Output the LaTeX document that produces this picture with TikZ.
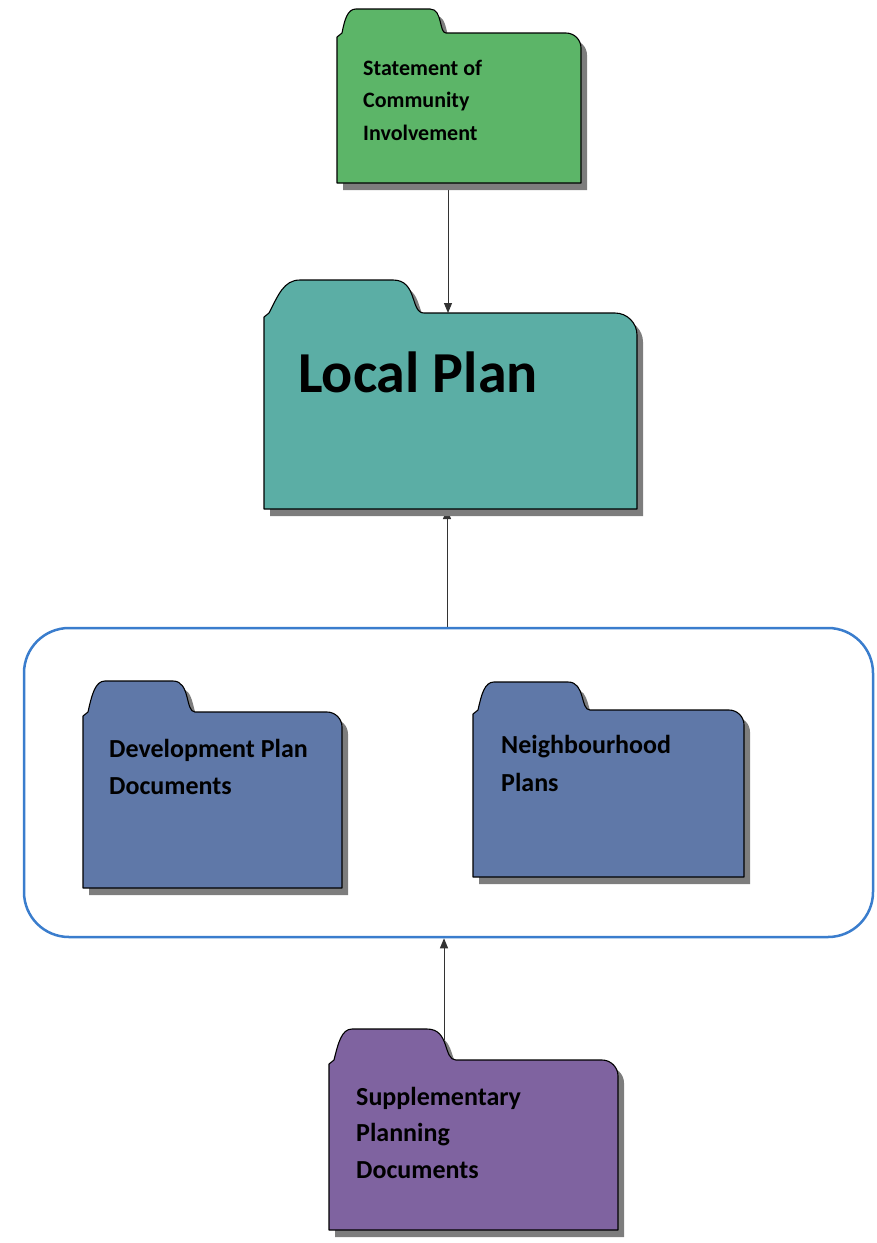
\documentclass[tikz,border=0pt]{standalone}
\usepackage{fontspec}
\setmainfont{Carlito}
\usetikzlibrary{arrows.meta}
\pgfdeclarelayer{bg}
\pgfsetlayers{bg,main}
\definecolor{cgreen}{RGB}{92,181,104}
\definecolor{cteal}{RGB}{91,174,165}
\definecolor{cblue}{RGB}{95,120,168}
\definecolor{cpurple}{RGB}{127,99,160}
\definecolor{cframe}{RGB}{58,125,205}
\definecolor{cshadow}{RGB}{125,125,125}
% folder outline: L, TabTop, BodyTop, R, B, tabflat start, tabflat end, tab end, corner radius
\def\fshape(#1,#2,#3,#4,#5,#6,#7,#8,#9){({#1},{#5}) -- ({#1},{#3+4}) -- ({#1+5},{#3}) .. controls ({#1+0.4*(#6-#1)},{#3-0.55*(#3-#2)}) and ({#1+0.55*(#6-#1)},{#2}) .. ({#6},{#2}) -- ({#7},{#2}) .. controls ({#7+0.8*(#8-#7)},{#2}) and ({#7+0.55*(#8-#7)},{#3}) .. ({#8},{#3}) -- ({#4-#9},{#3}) .. controls ({#4-0.45*#9},{#3}) and ({#4},{#3+0.45*#9}) .. ({#4},{#3+#9}) -- ({#4},{#5}) -- cycle}
\newcommand\drawfolder[2]{%
  \fill[cshadow,shift={(6,7)}] \fshape(#2);
  \filldraw[fill=#1,folderline] \fshape(#2);}
\tikzset{
  folderline/.style={draw=black,line width=1.1pt,line join=round},
  fbody/.style={inner sep=0pt,outer sep=0pt,anchor=north west},
  lbl/.style={anchor=base west,align=left,inner sep=0pt,text=black},
  arr/.style={draw=black!80,line width=1pt,-{Triangle[length=10pt,width=8pt]}},
  frame/.style={draw=cframe,line width=2.5pt,rounded corners=45pt,inner sep=0pt}
}
\begin{document}
\begin{tikzpicture}[x=1pt,y=-1pt]
\useasboundingbox (0,0) rectangle (877,1243);

% group frame
\node[frame,minimum width=849pt,minimum height=309pt] (grp) at (448.5,782.5) {};

% folders
\drawfolder{cgreen}{337,9,33,581,183,356,430,446,15}
\node[fbody,minimum width=244pt,minimum height=150pt] (sci) at (337,33) {};
\node[lbl,font={\fontsize{22}{32.5}\selectfont\bfseries}] (sciT) at (363,140) {Statement of\\Community\\Involvement};

\drawfolder{cteal}{264,280,313,637,509,300,393,424,22}
\node[fbody,minimum width=373pt,minimum height=196pt] (lp) at (264,313) {};
\node[lbl,font={\fontsize{58}{68}\selectfont\bfseries}] (lpT) at (298,392) {Local Plan};

\drawfolder{cblue}{83,681,712,342,888,105,173,195,15}
\node[fbody,minimum width=259pt,minimum height=176pt] (dpd) at (83,712) {};
\node[lbl,font={\fontsize{26}{37}\selectfont\bfseries}] (dpdT) at (109,794) {Development Plan\\Documents};

\drawfolder{cblue}{473,682,710,744,877,494,568,590,15}
\node[fbody,minimum width=271pt,minimum height=167pt] (np) at (473,710) {};
\node[lbl,font={\fontsize{26}{38}\selectfont\bfseries}] (npT) at (501,791) {Neighbourhood\\Plans};

\drawfolder{cpurple}{329,1029,1060,618,1230,352,427,456,16}
\node[fbody,minimum width=289pt,minimum height=170pt] (spd) at (329,1060) {};
\node[lbl,font={\fontsize{26}{36.5}\selectfont\bfseries}] (spdT) at (356,1178) {Supplementary\\Planning\\Documents};

% connectors
\begin{pgfonlayer}{bg}
\coordinate (x1) at (448,0);
\coordinate (x2) at (447,0);
\coordinate (x3) at (444,0);
\draw[arr] (sci.south -| x1) -- (lp.north -| x1);
\draw[arr] (grp.north -| x2) -- (lp.south -| x2);
\draw[arr] (spd.north -| x3) -- (grp.south -| x3);
\end{pgfonlayer}
\end{tikzpicture}
\end{document}
